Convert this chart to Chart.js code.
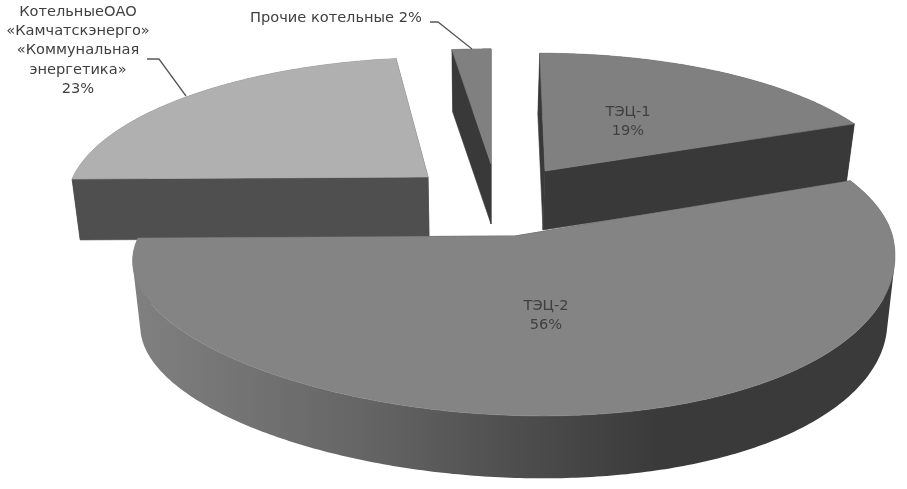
<!DOCTYPE html>
<html>
    <head>
        <meta charset="utf-8">
        <title>Структура теплоснабжения</title>
        <script src="https://cdn.jsdelivr.net/npm/chart.js@4/dist/chart.umd.min.js"></script>
        <style>
            body { margin: 0; background: #fff; }
            canvas { display: block; }
        </style>
    </head>
    <body>
        <canvas id="myChart" width="907" height="489"></canvas>

        <script>
        const categories = ['ТЭЦ-1', 'ТЭЦ-2', 'КотельныеОАО\n«Камчатскэнерго»\n«Коммунальная\nэнергетика»', 'Прочие котельные'];
        const shares = [19, 56, 23, 2];
        const topColors = ['#808080', '#848484', '#b0b0b0', '#808080'];
        const wallColors = ['#393939', '#3a3a3a', '#4f4f4f', '#393939'];

        // how each exploded slice sits on the page: apex, radii, lean of the back edge
        const sliceX = [545, 515, 428, 491];
        const sliceY = [171, 236, 177, 164];
        const radiusX = [353, 377, 356, 357];
        const radiusY = [135, 153, 137, 132];
        const leanX = [-6, 8, 8, 0];
        const leanY = [0, -2, -2, 0];
        const frontTilt = [0, 20, 0, 0];
        const baseShift = [-2, 0, 1, 0];
        const depth = [59, 66, 61, 60];
        const drawOrder = [3, 0, 2, 1];

        const perspective = 0.146;
        const baseShrink = 0.98;

        function project(i, angle, onBase) {
            const u = Math.cos(angle);
            const v = -Math.sin(angle);
            const w = 1 + perspective * v;
            const k = onBase ? baseShrink : 1;
            return {
                x: sliceX[i] + (onBase ? baseShift[i] : 0) + k * (radiusX[i] * u + leanX[i] * v) / w,
                y: sliceY[i] + (onBase ? depth[i] : 0) - k * (radiusY[i] * v - leanY[i] * u) / w
                    + (v < 0 ? -frontTilt[i] * u * v : 0)
            };
        }

        function apex(i, onBase) {
            return {
                x: sliceX[i] + (onBase ? baseShift[i] : 0),
                y: sliceY[i] + (onBase ? depth[i] : 0)
            };
        }

        function tracePoly(ctx, pts) {
            pts.forEach((p, n) => n ? ctx.lineTo(p.x, p.y) : ctx.moveTo(p.x, p.y));
            ctx.closePath();
        }

        function fillPoly(ctx, pts, color) {
            ctx.beginPath();
            tracePoly(ctx, pts);
            ctx.fillStyle = color;
            ctx.fill();
            ctx.strokeStyle = color;
            ctx.lineWidth = 0.6;
            ctx.stroke();
        }

        function signedArea(pts) {
            return pts.reduce((sum, p, n) => {
                const q = pts[(n + 1) % pts.length];
                return sum + p.x * q.y - q.x * p.y;
            }, 0);
        }

        // rim as one path of same-wound strips, so there are no seams and the outline stays convex
        function fillRim(ctx, top, base, color) {
            ctx.beginPath();
            for (let n = 1; n < top.length; n++) {
                const strip = [top[n - 1], top[n], base[n], base[n - 1]];
                tracePoly(ctx, signedArea(strip) < 0 ? strip.reverse() : strip);
            }
            ctx.fillStyle = color;
            ctx.fill('nonzero');
        }

        function arcPoints(i, from, to, onBase) {
            const steps = Math.max(4, Math.ceil(Math.abs(to - from) / 0.012));
            const pts = [];
            for (let n = 0; n <= steps; n++) {
                pts.push(project(i, from + (to - from) * n / steps, onBase));
            }
            return pts;
        }

        // the big slice's rim darkens from left to right
        function rimFill(ctx, i) {
            if (i !== 1) return wallColors[i];
            const g = ctx.createLinearGradient(135, 0, 660, 0);
            g.addColorStop(0, '#808080');
            g.addColorStop(0.45, '#646464');
            g.addColorStop(0.75, '#4c4c4c');
            g.addColorStop(1, wallColors[i]);
            return g;
        }

        const tiltedPie = {
            id: 'tiltedPie',
            beforeDatasetDraw(chart, args) {
                const ctx = chart.ctx;
                const arcs = args.meta.data;
                drawOrder.forEach(i => {
                    const a = arcs[i];
                    const top = arcPoints(i, a.startAngle, a.endAngle, false);
                    const base = arcPoints(i, a.startAngle, a.endAngle, true);

                    fillPoly(ctx, [apex(i, false), top[top.length - 1], base[base.length - 1], apex(i, true)], wallColors[i]);
                    fillPoly(ctx, [apex(i, false), top[0], base[0], apex(i, true)], wallColors[i]);
                    fillRim(ctx, top, base, rimFill(ctx, i));
                    fillPoly(ctx, [apex(i, false)].concat(top), a.options.backgroundColor);
                });
                return false;
            },
            afterDraw(chart) {
                const ctx = chart.ctx;
                ctx.save();

                // leader lines of the two outside labels
                ctx.strokeStyle = '#595959';
                ctx.lineWidth = 1.3;
                ctx.beginPath();
                ctx.moveTo(147, 59);
                ctx.lineTo(159, 59);
                ctx.lineTo(186, 96);
                ctx.moveTo(430, 22);
                ctx.lineTo(438, 22);
                ctx.lineTo(472, 49);
                ctx.stroke();

                ctx.fillStyle = '#404040';
                ctx.font = '14.6px "DejaVu Sans"';
                ctx.textAlign = 'center';
                ctx.textBaseline = 'middle';
                const label = (i, x, y, step) => {
                    const lines = categories[i].split('\n').concat(shares[i] + '%');
                    lines.forEach((t, n) => ctx.fillText(t, x, y + n * step));
                };
                label(0, 628, 112, 19);
                label(1, 546, 306, 19);
                label(2, 78, 12, 19.3);

                ctx.textAlign = 'left';
                ctx.fillText(categories[3] + ' ' + shares[3] + '%', 250, 18);
                ctx.restore();
            }
        };

        new Chart(document.getElementById('myChart'), {
            type: 'pie',
            data: {
                labels: categories,
                datasets: [{
                    data: shares,
                    backgroundColor: topColors,
                    borderWidth: 0
                }]
            },
            options: {
                responsive: false,
                animation: false,
                plugins: {
                    legend: { display: false },
                    tooltip: { enabled: false }
                }
            },
            plugins: [tiltedPie]
        });
        </script>
    </body>
</html>
